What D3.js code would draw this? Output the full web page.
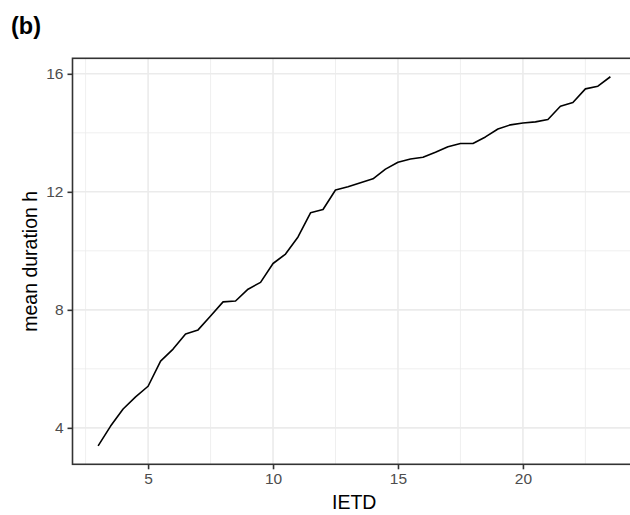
<!DOCTYPE html>
<html>
<head>
<meta charset="utf-8">
<script src="https://cdn.jsdelivr.net/npm/d3@7"></script>
<style>
  html, body { margin: 0; padding: 0; background: #ffffff; }
  svg { display: block; }
  text { font-family: "Liberation Sans", Arial, sans-serif; }
</style>
</head>
<body>
<svg id="chart" width="630" height="515"></svg>
<script>
const ietd = [3, 3.5, 4, 4.5, 5, 5.5, 6, 6.5, 7, 7.5, 8, 8.5, 9, 9.5, 10, 10.5, 11, 11.5, 12, 12.5,
  13, 13.5, 14, 14.5, 15, 15.5, 16, 16.5, 17, 17.5, 18, 18.5, 19, 19.5, 20, 20.5, 21, 21.5, 22, 22.5, 23, 23.5];
const meanDuration = [3.39, 4.06, 4.64, 5.05, 5.41, 6.26, 6.67, 7.18, 7.32, 7.79, 8.27, 8.30, 8.70, 8.93, 9.57, 9.89,
  10.47, 11.29, 11.40, 12.06, 12.17, 12.31, 12.44, 12.77, 13.00, 13.11, 13.17, 13.34, 13.53, 13.64, 13.64, 13.86,
  14.13, 14.27, 14.33, 14.37, 14.45, 14.90, 15.03, 15.49, 15.58, 15.90];
const xTicks = [5, 10, 15, 20];
const xMinor = [2.5, 7.5, 12.5, 17.5, 22.5];
const yTicks = [4, 8, 12, 16];
const yMinor = [6, 10, 14];
const panelTag = "(b)";
const xTitle = "IETD";
const yTitle = "mean duration h";

(function () {
const svg = d3.select("#chart");
const pL = 72.5, pR = 636, pT = 58.3, pB = 464.3;

const xExt = d3.extent(ietd), xPad = (xExt[1] - xExt[0]) * 0.05;
const yExt = d3.extent(meanDuration), yPad = (yExt[1] - yExt[0]) * 0.05;
const x = d3.scaleLinear().domain([xExt[0] - xPad, xExt[1] + xPad]).range([pL, pR]);
const y = d3.scaleLinear().domain([yExt[0] - yPad, yExt[1] + yPad]).range([pB, pT]);

// grid
const g = svg.append("g");
g.selectAll(".xminor").data(xMinor).join("line")
  .attr("x1", d => x(d)).attr("x2", d => x(d)).attr("y1", pT).attr("y2", pB)
  .attr("stroke", "#ebebeb").attr("stroke-width", 0.8);
g.selectAll(".yminor").data(yMinor).join("line")
  .attr("y1", d => y(d)).attr("y2", d => y(d)).attr("x1", pL).attr("x2", pR)
  .attr("stroke", "#ebebeb").attr("stroke-width", 0.8);
g.selectAll(".xmajor").data(xTicks).join("line")
  .attr("x1", d => x(d)).attr("x2", d => x(d)).attr("y1", pT).attr("y2", pB)
  .attr("stroke", "#ebebeb").attr("stroke-width", 1.6);
g.selectAll(".ymajor").data(yTicks).join("line")
  .attr("y1", d => y(d)).attr("y2", d => y(d)).attr("x1", pL).attr("x2", pR)
  .attr("stroke", "#ebebeb").attr("stroke-width", 1.6);

// line
svg.append("path")
  .datum(ietd.map((d, i) => [d, meanDuration[i]]))
  .attr("fill", "none").attr("stroke", "#000").attr("stroke-width", 1.6)
  .attr("stroke-linejoin", "round")
  .attr("d", d3.line().x(d => x(d[0])).y(d => y(d[1])));

// panel border
svg.append("rect").attr("x", pL).attr("y", pT)
  .attr("width", pR - pL).attr("height", pB - pT)
  .attr("fill", "none").attr("stroke", "#333333").attr("stroke-width", 1.6);

// axes
const xAxis = svg.append("g").attr("transform", `translate(0,${pB})`)
  .call(d3.axisBottom(x).tickValues(xTicks).tickSize(5).tickPadding(4).tickFormat(d3.format("d")));
const yAxis = svg.append("g").attr("transform", `translate(${pL},0)`)
  .call(d3.axisLeft(y).tickValues(yTicks).tickSize(5).tickPadding(4).tickFormat(d3.format("d")));
[xAxis, yAxis].forEach(a => {
  a.select(".domain").remove();
  a.selectAll(".tick line").attr("stroke", "#333333").attr("stroke-width", 1.6);
  a.selectAll(".tick text").attr("fill", "#4d4d4d").style("font-size", "15.5px")
    .style("font-family", "'Liberation Sans', Arial, sans-serif");
});

// titles
svg.append("text").attr("x", (pL + pR) / 2).attr("y", 509)
  .attr("text-anchor", "middle").style("font-size", "19.5px").attr("fill", "#000").text(xTitle);
svg.append("text").attr("transform", `translate(37,${(pT + pB) / 2}) rotate(-90)`)
  .attr("text-anchor", "middle").style("font-size", "19.5px").attr("fill", "#000").text(yTitle);
svg.append("text").attr("x", 11).attr("y", 34)
  .style("font-size", "23.5px").style("font-weight", "bold").attr("fill", "#000").text(panelTag);
})();
</script>
</body>
</html>
